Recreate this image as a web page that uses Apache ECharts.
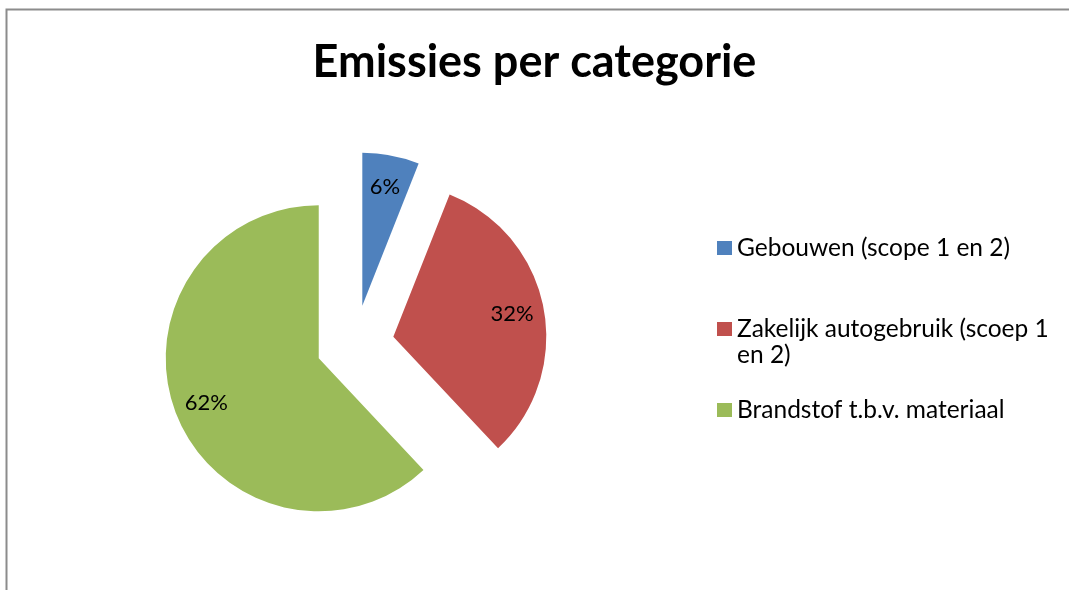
<!DOCTYPE html>
<html lang="nl">

<head>
    <meta charset="UTF-8">
    <title>Emissies per categorie</title>
    <script src="https://cdn.jsdelivr.net/npm/echarts@6/dist/echarts.min.js"></script>
    <style>
        html, body { margin: 0; padding: 0; background: #fff; }
    </style>
</head>

<body>

    <div id="EmissieChart" style="width: 1069px; height: 590px"></div>

    <script>
        var categories = ['Gebouwen (scope 1 en 2)', 'Zakelijk autogebruik (scoep 1 en 2)', 'Brandstof t.b.v. materiaal'];
        var values = [6, 32, 62];
        var colors = ['#4F81BD', '#C0504D', '#9BBB59'];

        var font = 'Lato, "Noto Sans", sans-serif';

        var chart = echarts.init(document.getElementById('EmissieChart'));

        // all slices exploded, like the excel chart
        var pieData = [];
        for (var i = 0; i < categories.length; i++) {
            pieData.push({
                name: categories[i],
                value: values[i],
                selected: true
            });
        }

        var option = {
            animation: false,
            color: colors,
            graphic: [{
                type: 'rect',
                shape: { x: 6.5, y: 9.5, width: 1200, height: 700 },
                style: { fill: 'none', stroke: '#8c8c8c', lineWidth: 2 },
                silent: true
            }],
            title: {
                text: 'Emissies per categorie',
                left: 'center',
                top: 35,
                textStyle: {
                    fontFamily: font,
                    fontWeight: 'bold',
                    fontSize: 45,
                    color: '#000'
                }
            },
            legend: {
                orient: 'vertical',
                left: 717,
                top: 235,
                padding: 0,
                itemGap: 29,
                itemWidth: 15,
                itemHeight: 14,
                icon: 'rect',
                selectedMode: false,
                data: categories,
                // empty first line so the marker sits beside the first text line
                formatter: function(name) {
                    return name == categories[1] ? '\n' + name : name;
                },
                textStyle: {
                    fontFamily: font,
                    fontSize: 24.5,
                    color: '#000',
                    lineHeight: 26,
                    width: 325,
                    overflow: 'break'
                }
            },
            series: [{
                type: 'pie',
                center: [355, 344],
                radius: 153,
                startAngle: 90,
                clockwise: true,
                selectedMode: 'multiple',
                selectedOffset: 39,
                label: { show: false },
                labelLine: { show: false },
                emphasis: { disabled: true },
                data: pieData
            }, {
                // label ring, same layout, only there to put the % labels further out
                type: 'pie',
                center: [355, 344],
                radius: [83, 153],
                startAngle: 90,
                clockwise: true,
                selectedMode: 'multiple',
                selectedOffset: 39,
                silent: true,
                itemStyle: { color: 'rgba(0,0,0,0)' },
                label: {
                    show: true,
                    position: 'inside',
                    formatter: '{d}%',
                    fontFamily: font,
                    fontSize: 22,
                    color: '#000'
                },
                labelLine: { show: false },
                emphasis: { disabled: true },
                data: pieData
            }]
        };

        chart.setOption(option);
    </script>

</body>

</html>
